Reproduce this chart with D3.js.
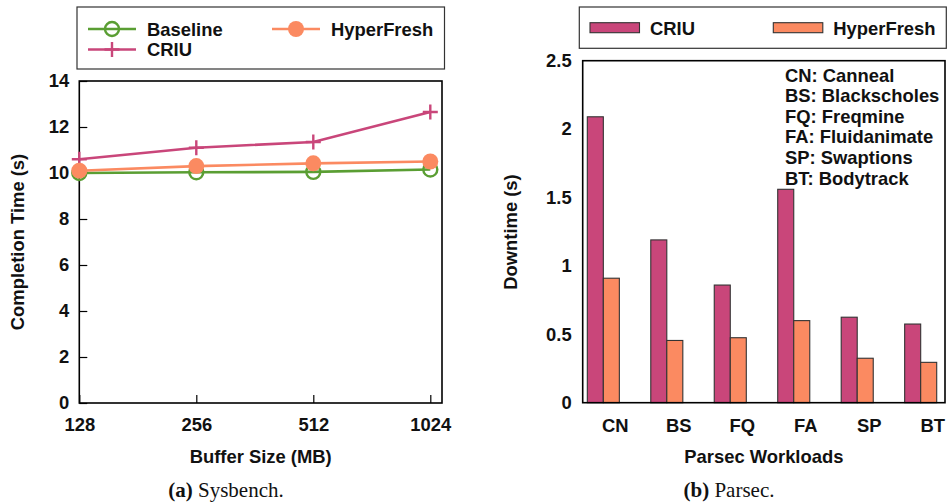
<!DOCTYPE html>
<html>
<head>
<meta charset="utf-8">
<script src="https://cdn.jsdelivr.net/npm/d3@7"></script>
<style>
  body { margin: 0; background: #fff; }
  svg text { font-family: "Liberation Sans", Arial, sans-serif; font-weight: bold; fill: #111; }
  svg text.cap { font-family: "Liberation Serif", "Times New Roman", serif; font-weight: normal; }
</style>
</head>
<body>
<div id="chart"></div>
<script>
// Sysbench (left)
const bufferSizes = ["128", "256", "512", "1024"];
const baselineTime = [10.0, 10.03, 10.05, 10.15];
const criuTime = [10.6, 11.1, 11.35, 12.65];
const hyperTime = [10.1, 10.3, 10.42, 10.5];
const timeTicks = [0, 2, 4, 6, 8, 10, 12, 14];

// Parsec (right)
const workloads = ["CN", "BS", "FQ", "FA", "SP", "BT"];
const criuDown = [2.09, 1.19, 0.86, 1.56, 0.625, 0.575];
const hyperDown = [0.91, 0.455, 0.475, 0.60, 0.325, 0.295];
const downTicks = [0, 0.5, 1, 1.5, 2, 2.5];
const workloadNames = ["CN: Canneal", "BS: Blackscholes", "FQ: Freqmine",
  "FA: Fluidanimate", "SP: Swaptions", "BT: Bodytrack"];

const colCriu = "#c9467a";
const colHyper = "#fb8a61";
const colBase = "#5a9e33";
const fs = "18.4px";

const svg = d3.select("#chart").append("svg")
  .attr("width", 947)
  .attr("height", 504);

function dottedGrid(g) {
  g.selectAll("line").attr("stroke", "#d0d0d0").attr("stroke-width", 1)
    .attr("stroke-dasharray", "1,2");
}

// ---------- left panel ----------
const L = { left: 79.3, right: 442, top: 81, bottom: 403 };
const x1 = d3.scaleLinear().domain([0, 3.1]).range([L.left, L.right]);
const y1 = d3.scaleLinear().domain([0, 14]).range([L.bottom, L.top]);

const left = svg.append("g");

left.append("g")
  .selectAll("line.h").data(timeTicks.slice(1)).join("line")
  .attr("x1", L.left).attr("x2", L.right)
  .attr("y1", d => y1(d)).attr("y2", d => y1(d))
  .call(dottedGrid);
left.append("g")
  .selectAll("line.v").data(d3.range(1, bufferSizes.length)).join("line")
  .attr("x1", d => x1(d)).attr("x2", d => x1(d))
  .attr("y1", L.top).attr("y2", L.bottom)
  .call(dottedGrid);

const yAxis1 = left.append("g")
  .attr("transform", `translate(${L.left},0)`)
  .call(d3.axisLeft(y1).tickValues(timeTicks).tickSize(-8).tickPadding(10));
yAxis1.select(".domain").remove();
yAxis1.selectAll("text").style("font-size", fs);
yAxis1.selectAll("line").attr("stroke", "#000").attr("stroke-width", 1.2);

const xAxis1 = left.append("g")
  .attr("transform", `translate(0,${L.bottom})`)
  .call(d3.axisBottom(x1).tickValues(d3.range(bufferSizes.length))
    .tickFormat(i => bufferSizes[i]).tickSize(-8).tickPadding(15));
xAxis1.select(".domain").remove();
xAxis1.selectAll("text").style("font-size", fs);
xAxis1.selectAll("line").attr("stroke", "#000").attr("stroke-width", 1.2);

left.append("rect")
  .attr("x", L.left).attr("y", L.top)
  .attr("width", L.right - L.left).attr("height", L.bottom - L.top)
  .attr("fill", "none").attr("stroke", "#000").attr("stroke-width", 1.6);

const line1 = d3.line().x((d, i) => x1(i)).y(d => y1(d));

function marker(g, kind, cx, cy, color) {
  if (kind === "open") {
    g.append("circle").attr("cx", cx).attr("cy", cy).attr("r", 7)
      .attr("fill", "none").attr("stroke", color).attr("stroke-width", 2.4);
  } else if (kind === "filled") {
    g.append("circle").attr("cx", cx).attr("cy", cy).attr("r", 8).attr("fill", color);
  } else {
    g.append("path").attr("d", `M${cx - 7.5},${cy}H${cx + 7.5}M${cx},${cy - 7.5}V${cy + 7.5}`)
      .attr("stroke", color).attr("stroke-width", 2.4);
  }
}

function drawSeries(values, color, kind) {
  const g = left.append("g");
  g.append("path").datum(values)
    .attr("d", line1).attr("fill", "none")
    .attr("stroke", color).attr("stroke-width", 2.6);
  values.forEach((v, i) => marker(g, kind, x1(i), y1(v), color));
}
drawSeries(baselineTime, colBase, "open");
drawSeries(criuTime, colCriu, "plus");
drawSeries(hyperTime, colHyper, "filled");

left.append("text")
  .attr("transform", "translate(24,242) rotate(-90)")
  .attr("text-anchor", "middle")
  .style("font-size", fs)
  .text("Completion Time (s)");
left.append("text")
  .attr("x", (L.left + L.right) / 2).attr("y", 462.5)
  .attr("text-anchor", "middle")
  .style("font-size", fs)
  .text("Buffer Size (MB)");

// left legend
const lg = left.append("g");
lg.append("rect").attr("x", 77).attr("y", 7).attr("width", 367.5).attr("height", 62)
  .attr("fill", "#fff").attr("stroke", "#333").attr("stroke-width", 1.2);
const legItems = [
  { name: "Baseline", color: colBase, kind: "open", x: 88, y: 29 },
  { name: "HyperFresh", color: colHyper, kind: "filled", x: 272, y: 29 },
  { name: "CRIU", color: colCriu, kind: "plus", x: 88, y: 49.5 }
];
legItems.forEach(d => {
  lg.append("line").attr("x1", d.x).attr("x2", d.x + 48).attr("y1", d.y).attr("y2", d.y)
    .attr("stroke", d.color).attr("stroke-width", 2.6);
  marker(lg, d.kind, d.x + 24, d.y, d.color);
  lg.append("text").attr("x", d.x + 59).attr("y", d.y + 6.5)
    .style("font-size", fs).text(d.name);
});

svg.append("text").attr("class", "cap")
  .attr("x", 226).attr("y", 497).attr("text-anchor", "middle")
  .style("font-size", "21px")
  .html('<tspan font-weight="bold">(a)</tspan> Sysbench.');

// ---------- right panel ----------
const R = { left: 582.7, right: 945, top: 60.7, bottom: 402.7 };
const x2 = d3.scaleLinear().domain([-0.325, 5.383]).range([R.left, R.right]);
const y2 = d3.scaleLinear().domain([0, 2.5]).range([R.bottom, R.top]);
const barW = x2(0.2524) - x2(0);

const right = svg.append("g");

right.append("g")
  .selectAll("line").data(downTicks.slice(1, -1)).join("line")
  .attr("x1", R.left).attr("x2", R.right)
  .attr("y1", d => y2(d)).attr("y2", d => y2(d))
  .call(dottedGrid);

const yAxis2 = right.append("g")
  .attr("transform", `translate(${R.left},0)`)
  .call(d3.axisLeft(y2).tickValues(downTicks).tickFormat(d3.format("~g")).tickSize(0).tickPadding(11));
yAxis2.select(".domain").remove();
yAxis2.selectAll("text").style("font-size", fs);

right.append("g")
  .selectAll("text").data(workloads).join("text")
  .attr("x", (d, i) => x2(i) + 12).attr("y", 431.5)
  .attr("text-anchor", "middle")
  .style("font-size", fs)
  .text(d => d);

right.append("g").selectAll("rect").data(criuDown).join("rect")
  .attr("x", (d, i) => x2(i) - barW).attr("y", d => y2(d))
  .attr("width", barW).attr("height", d => y2(0) - y2(d))
  .attr("fill", colCriu).attr("stroke", "#333").attr("stroke-width", 1.1);
right.append("g").selectAll("rect").data(hyperDown).join("rect")
  .attr("x", (d, i) => x2(i)).attr("y", d => y2(d))
  .attr("width", barW).attr("height", d => y2(0) - y2(d))
  .attr("fill", colHyper).attr("stroke", "#333").attr("stroke-width", 1.1);

right.append("rect")
  .attr("x", R.left).attr("y", R.top)
  .attr("width", R.right - R.left).attr("height", R.bottom - R.top)
  .attr("fill", "none").attr("stroke", "#000").attr("stroke-width", 1.6);

right.append("g").selectAll("text").data(workloadNames).join("text")
  .attr("x", 785).attr("y", (d, i) => 81.5 + i * 20.66)
  .style("font-size", fs)
  .text(d => d);

right.append("text")
  .attr("transform", "translate(517,232) rotate(-90)")
  .attr("text-anchor", "middle")
  .style("font-size", fs)
  .text("Downtime (s)");
right.append("text")
  .attr("x", (R.left + R.right) / 2).attr("y", 462.5)
  .attr("text-anchor", "middle")
  .style("font-size", fs)
  .text("Parsec Workloads");

// right legend
const rg = right.append("g");
rg.append("rect").attr("x", 579.3).attr("y", 7).attr("width", 367).attr("height", 41.3)
  .attr("fill", "#fff").attr("stroke", "#333").attr("stroke-width", 1.2);
[{ name: "CRIU", color: colCriu, x: 590 }, { name: "HyperFresh", color: colHyper, x: 773.3 }]
  .forEach(d => {
    rg.append("rect").attr("x", d.x).attr("y", 22.7).attr("width", 49.5).attr("height", 10)
      .attr("fill", d.color).attr("stroke", "#333").attr("stroke-width", 1.1);
    rg.append("text").attr("x", d.x + 60).attr("y", 34.5)
      .style("font-size", fs).text(d.name);
  });

svg.append("text").attr("class", "cap")
  .attr("x", 729).attr("y", 497).attr("text-anchor", "middle")
  .style("font-size", "21px")
  .html('<tspan font-weight="bold">(b)</tspan> Parsec.');
</script>
</body>
</html>
